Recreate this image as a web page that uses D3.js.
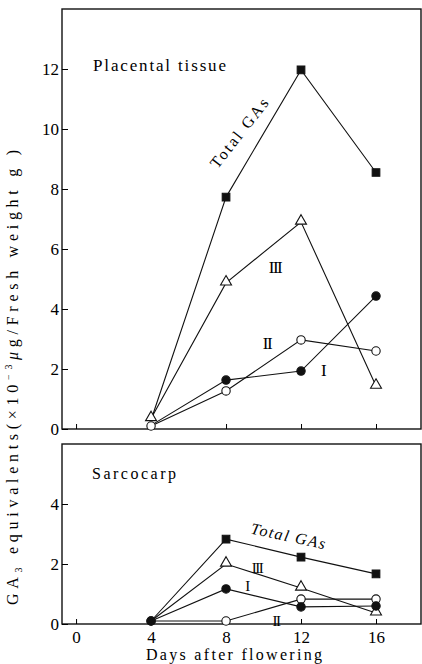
<!DOCTYPE html>
<html>
<head>
<meta charset="utf-8">
<script src="https://cdn.jsdelivr.net/npm/d3@7"></script>
<style>
  body { margin: 0; background: #fff; }
</style>
</head>
<body>
<div id="chart"></div>
<script>
// days after flowering
const days = [4, 8, 12, 16];
const xTicks = [0, 4, 8, 12, 16];

// placental tissue
const topTotal = [0.3, 7.73, 11.97, 8.55];
const topIII = [0.35, 4.87, 6.9, 1.43];
const topII = [0.1, 1.27, 2.97, 2.6];
const topI = [0.12, 1.63, 1.93, 4.43];
const topYTicks = [0, 2, 4, 6, 8, 10, 12];

// sarcocarp
const botTotal = [0.1, 2.83, 2.23, 1.67];
const botIII = [0.1, 2.0, 1.2, 0.37];
const botII = [0.1, 0.1, 0.83, 0.83];
const botI = [0.1, 1.17, 0.57, 0.6];
const botYTicks = [0, 2, 4];

const W = 422, H = 664;
const serif = "'Liberation Serif', 'Times New Roman', 'DejaVu Serif', serif";
const svg = d3.select("#chart").append("svg")
    .attr("width", W)
    .attr("height", H)
    .style("font-family", serif);

const left = 62, right = 421;
let x = d3.scaleLinear().domain([-0.75, 18.4]).range([left, right]);

function panel(opt) {
  let y = d3.scaleLinear().domain([0, opt.yMax]).range([opt.bottom, opt.top]);
  let g = svg.append("g");

  // frame
  g.append("rect")
    .attr("x", left).attr("y", opt.top)
    .attr("width", right - left).attr("height", opt.bottom - opt.top)
    .attr("fill", "none").attr("stroke", "#111").attr("stroke-width", 1.4);

  let yAxis = d3.axisLeft(y).tickValues(opt.yTicks).tickFormat(d3.format("d")).tickSize(-6).tickPadding(3);
  g.append("g")
    .attr("transform", `translate(${left},0)`)
    .call(yAxis)
    .attr("font-family", serif).attr("font-size", 17)
    .call(s => s.select(".domain").remove());

  let xAxis = d3.axisBottom(x).tickValues(xTicks).tickFormat(d3.format("d")).tickSize(-5).tickPadding(7);
  let xa = g.append("g")
    .attr("transform", `translate(0,${opt.bottom})`)
    .call(xAxis)
    .attr("font-family", serif).attr("font-size", 17)
    .call(s => s.select(".domain").remove());
  if (!opt.xLabels) xa.selectAll("text").remove();

  let line = d3.line().x(d => x(d[0])).y(d => y(d[1]));
  opt.series.forEach(s => {
    g.append("path")
      .datum(days.map((d, i) => [d, s.values[i]]))
      .attr("d", line)
      .attr("fill", "none").attr("stroke", "#111").attr("stroke-width", 1.1);
  });

  opt.series.forEach(s => {
    let pts = days.map((d, i) => [d, s.values[i]]).filter((p, i) => !(s.hide || []).includes(i));
    let sym = s.shape === "square" ? d3.symbolSquare : s.shape === "triangle" ? d3.symbolTriangle : d3.symbolCircle;
    let size = s.shape === "square" ? 58 : s.shape === "triangle" ? 52 : 55;
    g.selectAll(null).data(pts).enter().append("path")
      .attr("transform", p => `translate(${x(p[0])},${y(p[1]) + (s.shape === "triangle" ? -1 : 0)})`)
      .attr("d", d3.symbol().type(sym).size(size))
      .attr("fill", s.fill ? "#111" : "#fff")
      .attr("stroke", "#111").attr("stroke-width", 1.1);
  });

  return g;
}

let gTop = panel({
  top: 9, bottom: 429, yMax: 14, yTicks: topYTicks, xLabels: false,
  series: [
    { values: topTotal, shape: "square", fill: true, hide: [0] },
    { values: topI, shape: "circle", fill: true, hide: [0] },
    { values: topIII, shape: "triangle", fill: false },
    { values: topII, shape: "circle", fill: false }
  ]
});

let gBot = panel({
  top: 444, bottom: 624, yMax: 6, yTicks: botYTicks, xLabels: true,
  series: [
    { values: botTotal, shape: "square", fill: true, hide: [0] },
    { values: botIII, shape: "triangle", fill: false, hide: [0] },
    { values: botII, shape: "circle", fill: false },
    { values: botI, shape: "circle", fill: true }
  ]
});

function roman(g, xx, yy, n, size) {
  g.append("text").attr("x", xx).attr("y", yy).attr("text-anchor", "middle")
    .attr("letter-spacing", -1.5).style("font-size", size + "px").text("I".repeat(n));
}

// panel titles and series labels
gTop.append("text").attr("x", 93).attr("y", 71)
  .attr("textLength", 133).style("font-size", "17px").text("Placental tissue");
gTop.append("text")
  .attr("transform", "translate(239,133) rotate(-52)")
  .attr("text-anchor", "middle").attr("dy", "0.35em")
  .attr("textLength", 84).style("font-size", "16px").text("Total GAs");
roman(gTop, 275, 273, 3, 17);
roman(gTop, 267, 349, 2, 17);
roman(gTop, 323, 376, 1, 17);

gBot.append("text").attr("x", 92).attr("y", 479)
  .attr("textLength", 84).style("font-size", "16px").text("Sarcocarp");
gBot.append("text")
  .attr("transform", "translate(289,536) rotate(12)")
  .attr("text-anchor", "middle").attr("dy", "0.35em")
  .style("font-size", "16px").style("font-style", "italic").attr("letter-spacing", 1.5)
  .text("Total GAs");
roman(gBot, 257, 573, 3, 15);
roman(gBot, 247, 591, 1, 15);
roman(gBot, 276, 626, 2, 15);

// axis titles
svg.append("text").attr("x", 234).attr("y", 660).attr("text-anchor", "middle")
  .attr("textLength", 176).style("font-size", "16px").text("Days after flowering");

let yl = svg.append("text")
  .attr("transform", "translate(18,605) rotate(-90)")
  .attr("textLength", 455)
  .style("font-size", "16px");
yl.append("tspan").text("GA");
yl.append("tspan").attr("dy", 4).style("font-size", "10px").text("3");
yl.append("tspan").attr("dy", -4).text(" equivalents(×10");
yl.append("tspan").attr("dy", -6).style("font-size", "10px").text("−3");
yl.append("tspan").attr("dy", 6).style("font-style", "italic").text("μ");
yl.append("tspan").text("g/Fresh weight g )");
</script>
</body>
</html>
